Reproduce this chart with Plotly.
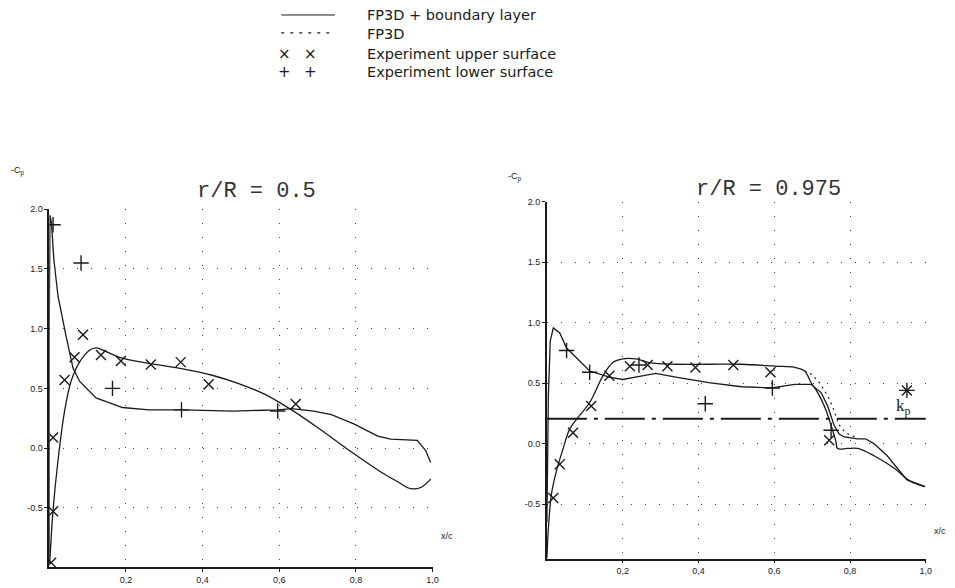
import plotly.graph_objects as go

# ---------------- data: r/R = 0.5 ----------------
l_up_x = [0.0013, 0.010, 0.023, 0.040, 0.057, 0.079, 0.105, 0.122, 0.140, 0.183, 0.26, 0.338,
          0.425, 0.494, 0.563, 0.632, 0.701, 0.796, 0.865, 0.908, 0.943, 0.969, 0.995]
l_up_y = [-0.96, -0.52, -0.10, 0.31, 0.56, 0.72, 0.82, 0.84, 0.82, 0.76, 0.71, 0.67,
          0.61, 0.54, 0.45, 0.32, 0.17, -0.05, -0.20, -0.28, -0.34, -0.33, -0.26]
l_lo_x = [0.0, 0.0, 0.002, 0.006, 0.012, 0.023, 0.045, 0.062, 0.079, 0.122, 0.191, 0.26, 0.35,
          0.48, 0.597, 0.632, 0.69, 0.736, 0.796, 0.857, 0.89, 0.96, 0.982, 0.995]
l_lo_y = [-0.97, 1.0, 1.95, 1.88, 1.58, 1.27, 0.92, 0.67, 0.56, 0.42, 0.34, 0.32, 0.32,
          0.31, 0.32, 0.33, 0.31, 0.28, 0.20, 0.10, 0.075, 0.065, -0.02, -0.12]
l_exp_up_x = [0.005, 0.010, 0.010, 0.040, 0.066, 0.088, 0.135, 0.187, 0.265, 0.343, 0.416, 0.643]
l_exp_up_y = [-0.96, -0.53, 0.088, 0.57, 0.76, 0.95, 0.78, 0.73, 0.70, 0.72, 0.535, 0.37]
l_exp_lo_x = [0.010, 0.083, 0.165, 0.345, 0.596]
l_exp_lo_y = [1.87, 1.55, 0.50, 0.32, 0.31]

# ---------------- data: r/R = 0.975 ----------------
r_up_x = [0.0, 0.004, 0.012, 0.025, 0.043, 0.06, 0.078, 0.113, 0.148, 0.174, 0.2, 0.235, 0.27,
          0.34, 0.427, 0.514, 0.603, 0.654, 0.68, 0.697, 0.715, 0.732, 0.75, 0.763, 0.767,
          0.793, 0.82, 0.863, 0.915, 0.959, 0.998]
r_up_y = [-0.95, -0.70, -0.42, -0.23, -0.04, 0.12, 0.20, 0.34, 0.56, 0.67, 0.70, 0.70, 0.67,
          0.656, 0.656, 0.656, 0.64, 0.63, 0.60, 0.505, 0.42, 0.31, 0.15, 0.014, -0.04,
          -0.04, -0.04, -0.10, -0.20, -0.31, -0.355]
r_lo_x = [0.0, 0.001, 0.004, 0.009, 0.017, 0.034, 0.052, 0.078, 0.113, 0.165, 0.20, 0.252,
          0.287, 0.34, 0.427, 0.514, 0.593, 0.654, 0.697, 0.724, 0.741, 0.758, 0.771, 0.785,
          0.82, 0.841, 0.863, 0.898, 0.95, 0.977, 0.998]
r_lo_y = [-0.65, -0.2, 0.4, 0.85, 0.956, 0.915, 0.79, 0.71, 0.60, 0.55, 0.53, 0.56,
          0.58, 0.55, 0.505, 0.47, 0.46, 0.49, 0.49, 0.42, 0.31, 0.15, 0.08, 0.055,
          0.04, 0.04, 0.0, -0.10, -0.30, -0.33, -0.355]
r_fp_x = [0.68, 0.70, 0.72, 0.74, 0.755, 0.77, 0.785, 0.80, 0.82]
r_fp_y = [0.60, 0.57, 0.50, 0.40, 0.30, 0.16, 0.10, 0.07, 0.05]
r_exp_up_x = [0.017, 0.034, 0.069, 0.117, 0.165, 0.219, 0.266, 0.318, 0.392, 0.492, 0.59, 0.745, 0.95]
r_exp_up_y = [-0.45, -0.17, 0.09, 0.31, 0.56, 0.64, 0.65, 0.64, 0.63, 0.65, 0.59, 0.027, 0.44]
r_exp_lo_x = [0.052, 0.113, 0.243, 0.418, 0.595, 0.75, 0.95]
r_exp_lo_y = [0.77, 0.59, 0.65, 0.33, 0.46, 0.11, 0.44]
kp_x = [0.0, 1.0]
kp_y = [0.205, 0.205]

x_tickvals = [0.2, 0.4, 0.6, 0.8, 1.0]
x_ticktext = ["0,2", "0,4", "0,6", "0,8", "1,0"]
y_tickvals = [-0.5, 0.0, 0.5, 1.0, 1.5, 2.0]
y_ticktext = ["-0.5", "0.0", "0.5", "1.0", "1.5", "2.0"]

INK = "#1a1a1a"
LINE = dict(color=INK, width=1.3)
W, H, OFF = 947, 580, 8   # page body margin offset


def px_x(p):
    return (p - OFF) / W


def px_y(p):
    return 1 - (p - OFF) / H


fig = go.Figure()


def add_panel(xa, ya, up_x, up_y, lo_x, lo_y, eu_x, eu_y, el_x, el_y):
    fig.add_trace(go.Scatter(x=up_x, y=up_y, mode="lines", line=LINE, line_shape="spline",
                             xaxis=xa, yaxis=ya, showlegend=False))
    fig.add_trace(go.Scatter(x=lo_x, y=lo_y, mode="lines", line=LINE,
                             xaxis=xa, yaxis=ya, showlegend=False))
    fig.add_trace(go.Scatter(x=eu_x, y=eu_y, mode="markers",
                             marker=dict(symbol="x-thin", size=10, line=dict(color=INK, width=1.4)),
                             xaxis=xa, yaxis=ya, showlegend=False))
    fig.add_trace(go.Scatter(x=el_x, y=el_y, mode="markers",
                             marker=dict(symbol="cross-thin", size=11, line=dict(color=INK, width=1.4)),
                             xaxis=xa, yaxis=ya, showlegend=False))


add_panel("x", "y", l_up_x, l_up_y, l_lo_x, l_lo_y, l_exp_up_x, l_exp_up_y, l_exp_lo_x, l_exp_lo_y)
fig.add_trace(go.Scatter(x=kp_x, y=kp_y, mode="lines", xaxis="x2", yaxis="y2", showlegend=False,
                         line=dict(color=INK, width=2, dash="40px,7px,4px,7px")))
add_panel("x2", "y2", r_up_x, r_up_y, r_lo_x, r_lo_y, r_exp_up_x, r_exp_up_y, r_exp_lo_x, r_exp_lo_y)
fig.add_trace(go.Scatter(x=r_fp_x, y=r_fp_y, mode="lines", xaxis="x2", yaxis="y2", showlegend=False,
                         line=dict(color=INK, width=1.2, dash="2px,4px")))

axis_common = dict(showline=True, linecolor=INK, linewidth=1.5, ticks="outside", ticklen=3,
                   tickcolor=INK, showgrid=True, gridcolor="#444", gridwidth=1.3,
                   griddash="1px,13px", zeroline=False,
                   tickfont=dict(family="Liberation Sans", size=9, color=INK))

fig.update_layout(
    width=W, height=H, margin=dict(l=0, r=0, t=0, b=0),
    paper_bgcolor="white", plot_bgcolor="white", showlegend=False,
    xaxis=dict(domain=[px_x(49.5), px_x(435.3)], range=[0, 1.0], tickvals=x_tickvals,
               ticktext=x_ticktext, anchor="y", **axis_common),
    yaxis=dict(domain=[px_y(567.3), px_y(206)], range=[-1.0, 2.0], tickvals=y_tickvals,
               ticktext=y_ticktext, anchor="x", **axis_common),
    xaxis2=dict(domain=[px_x(550.3), px_x(931.7)], range=[0, 1.0], tickvals=x_tickvals,
                ticktext=x_ticktext, anchor="y2", **axis_common),
    yaxis2=dict(domain=[px_y(558.3), px_y(198.3)], range=[-0.95, 2.0], tickvals=y_tickvals,
                ticktext=y_ticktext, anchor="x2", **axis_common),
)

ann = []
C = dict(xanchor="center", yanchor="middle", showarrow=False)
small = dict(family="Liberation Sans", size=9, color=INK)
for xr, yr, xc, yc in [("x domain", "y domain", -0.082, 1.107), ("x2 domain", "y2 domain", -0.085, 1.07)]:
    ann.append(dict(xref=xr, yref=yr, x=xc, y=yc, text="-C<sub>p</sub>", font=small, **C))
for xr, yr, xc, yc in [("x domain", "y domain", 1.038, 0.089), ("x2 domain", "y2 domain", 1.037, 0.078)]:
    ann.append(dict(xref=xr, yref=yr, x=xc, y=yc, text="x/c", font=small, **C))
title_font = dict(family="Liberation Mono", size=22, color="#333")
ann.append(dict(xref="x domain", yref="y domain", x=0.54, y=1.05, text="r/R = 0.5",
                font=title_font, **C))
ann.append(dict(xref="x2 domain", yref="y2 domain", x=0.584, y=1.035, text="r/R = 0.975",
                font=title_font, **C))
ann.append(dict(xref="x2", yref="y2", x=0.94, y=0.30, text="k<sub>p</sub>",
                font=dict(family="Liberation Serif", size=17, color=INK), **C))

# custom legend
leg_font = dict(family="DejaVu Sans", size=14.5, color=INK)
leg_rows = [(10, "FP3D + boundary layer"), (29, "FP3D"), (49, "Experiment upper surface"),
            (68, "Experiment lower surface")]
for py, txt in leg_rows:
    ann.append(dict(xref="paper", yref="paper", x=px_x(367), y=px_y(py), text=txt,
                    xanchor="left", yanchor="middle", showarrow=False, font=leg_font))
for py, sym in [(49, "×"), (68, "+")]:
    for px in (286, 312):
        ann.append(dict(xref="paper", yref="paper", x=px_x(px), y=px_y(py), text=sym,
                        font=dict(family="DejaVu Sans", size=15, color=INK), **C))
fig.update_layout(annotations=ann)

shapes = [
    dict(type="line", xref="paper", yref="paper", x0=px_x(283), x1=px_x(337), y0=px_y(10),
         y1=px_y(10), line=dict(color=INK, width=1)),
    dict(type="line", xref="paper", yref="paper", x0=px_x(283), x1=px_x(337), y0=px_y(28),
         y1=px_y(28), line=dict(color=INK, width=1.2, dash="3px,6px")),
]
fig.update_layout(shapes=shapes)

fig.write_html("out.html")
